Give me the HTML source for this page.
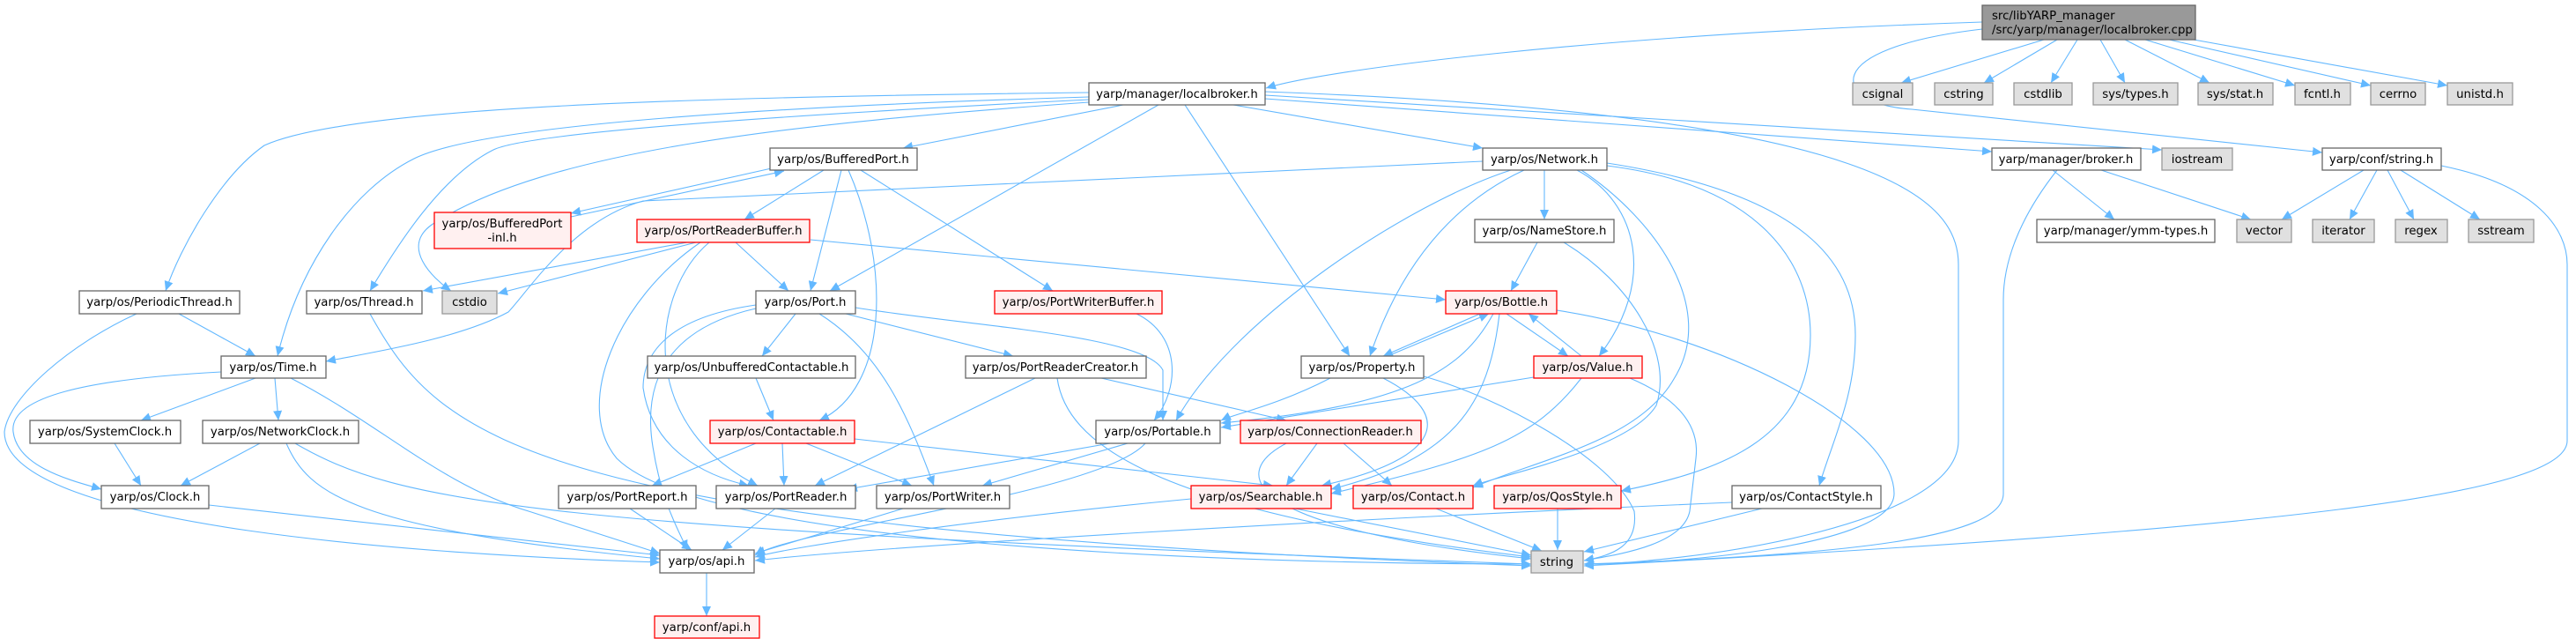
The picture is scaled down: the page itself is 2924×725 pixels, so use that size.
<!DOCTYPE html>
<html><head><meta charset="utf-8"><style>
html,body{margin:0;padding:0;background:#fff;}
svg{display:block;}
text{font-family:"DejaVu Sans","Liberation Sans",sans-serif;font-size:13.3px;fill:#000;text-anchor:middle;}
.n rect{fill:#fff;stroke:#666;stroke-width:1.3;}
.r rect{fill:#fff0f0;stroke:#f00;stroke-width:1.3;}
.g rect{fill:#e0e0e0;stroke:#999;stroke-width:1.3;}
.e path{fill:none;stroke:#63b8ff;stroke-width:1.1;}
</style></head><body>
<svg width="2924" height="725" viewBox="0 0 2924 725" xmlns="http://www.w3.org/2000/svg">
<defs><marker id="a" markerUnits="userSpaceOnUse" markerWidth="12" markerHeight="10" refX="11" refY="5" orient="auto"><path d="M0,0 L11,5 L0,10 z" fill="#63b8ff"/></marker></defs>
<g class="e" marker-end="url(#a)">
<path d="M2250,25 C1800,40 1500,80 1437,100" marker-end="url(#a)"/>
<path d="M2320,45 L2158,94" marker-end="url(#a)"/>
<path d="M2335,45 L2252,94" marker-end="url(#a)"/>
<path d="M2358,45 L2328,94" marker-end="url(#a)"/>
<path d="M2384,45 L2412,94" marker-end="url(#a)"/>
<path d="M2412,45 L2508,94" marker-end="url(#a)"/>
<path d="M2435,45 L2605,97" marker-end="url(#a)"/>
<path d="M2462,45 L2691,97" marker-end="url(#a)"/>
<path d="M2490,45 L2778,97" marker-end="url(#a)"/>
<path d="M2250,33 C2060,55 2080,118 2170,124 L2636,173" marker-end="url(#a)"/>
<path d="M1275,119 L1025,168" marker-end="url(#a)"/>
<path d="M1315,119 L942,330" marker-end="url(#a)"/>
<path d="M1400,119 L1683,168" marker-end="url(#a)"/>
<path d="M1345,119 L1532,404" marker-end="url(#a)"/>
<path d="M1436,112 L2261,172" marker-end="url(#a)"/>
<path d="M1436,108 L2454,170" marker-end="url(#a)"/>
<path d="M1436,104 C2150,130 2223,230 2223,300 L2223,500 C2223,600 1900,640 1798,640" marker-end="url(#a)"/>
<path d="M1236,105 C800,110 400,120 300,165 C250,200 205,280 188,330" marker-end="url(#a)"/>
<path d="M1236,110 C900,120 550,140 470,180 C400,215 340,300 315,404" marker-end="url(#a)"/>
<path d="M1236,113 C900,130 600,150 560,170 C500,200 450,280 420,330" marker-end="url(#a)"/>
<path d="M1236,116 C900,140 620,170 490,255 C455,280 490,315 512,330" marker-end="url(#a)"/>
<path d="M880,190 L648,242" marker-end="url(#a)"/>
<path d="M648,246 L890,194" marker-end="url(#a)"/>
<path d="M935,193 L845,249" marker-end="url(#a)"/>
<path d="M955,193 L920,330" marker-end="url(#a)"/>
<path d="M963,193 C1010,300 1010,440 930,477" marker-end="url(#a)"/>
<path d="M977,193 L1195,330" marker-end="url(#a)"/>
<path d="M835,275 L895,330" marker-end="url(#a)"/>
<path d="M780,275 L480,330" marker-end="url(#a)"/>
<path d="M790,275 L565,333" marker-end="url(#a)"/>
<path d="M920,272 L1641,340" marker-end="url(#a)"/>
<path d="M805,275 C740,330 720,480 860,551" marker-end="url(#a)"/>
<path d="M795,275 C700,340 650,460 700,520 C800,620 1400,640 1738,640" marker-end="url(#a)"/>
<path d="M1753,193 L1753,249" marker-end="url(#a)"/>
<path d="M1730,193 C1650,230 1590,300 1555,404" marker-end="url(#a)"/>
<path d="M1790,193 C1860,230 1880,320 1815,404" marker-end="url(#a)"/>
<path d="M1715,193 C1600,230 1400,360 1335,477" marker-end="url(#a)"/>
<path d="M1795,193 C1880,250 1950,350 1900,430 C1860,500 1750,520 1672,553" marker-end="url(#a)"/>
<path d="M1824,188 C2000,210 2055,300 2055,380 C2055,500 1950,535 1840,557" marker-end="url(#a)"/>
<path d="M1824,185 C2050,220 2106,300 2106,380 C2106,450 2080,500 2065,551" marker-end="url(#a)"/>
<path d="M1683,183 L730,228 C650,250 600,330 577,354 C520,385 420,400 370,410" marker-end="url(#a)"/>
<path d="M1745,275 L1715,330" marker-end="url(#a)"/>
<path d="M1775,275 C1850,320 1900,400 1880,460 C1850,510 1700,540 1672,551" marker-end="url(#a)"/>
<path d="M1680,356 L1570,404" marker-end="url(#a)"/>
<path d="M1710,356 L1780,404" marker-end="url(#a)"/>
<path d="M1695,356 C1660,420 1600,460 1386,480" marker-end="url(#a)"/>
<path d="M1702,356 C1690,460 1650,520 1511,555" marker-end="url(#a)"/>
<path d="M1767,352 C1950,380 2150,480 2150,560 C2150,620 1900,640 1798,640" marker-end="url(#a)"/>
<path d="M1575,404 L1690,356" marker-end="url(#a)"/>
<path d="M1510,429 C1450,460 1400,470 1386,477" marker-end="url(#a)"/>
<path d="M1570,429 C1650,470 1640,520 1500,551" marker-end="url(#a)"/>
<path d="M1616,427 C1700,450 1830,520 1855,580 C1860,620 1830,630 1798,636" marker-end="url(#a)"/>
<path d="M1795,404 L1735,356" marker-end="url(#a)"/>
<path d="M1741,428 L1386,485" marker-end="url(#a)"/>
<path d="M1795,429 C1740,500 1680,520 1511,560" marker-end="url(#a)"/>
<path d="M1850,429 C1900,450 1930,480 1925,520 L1918,580 C1910,620 1830,630 1798,636" marker-end="url(#a)"/>
<path d="M903,356 L865,404" marker-end="url(#a)"/>
<path d="M960,356 L1150,404" marker-end="url(#a)"/>
<path d="M971,349 C1100,370 1300,380 1320,420 L1320,477" marker-end="url(#a)"/>
<path d="M930,356 C1000,400 1030,470 1060,551" marker-end="url(#a)"/>
<path d="M858,346 C760,360 730,400 730,440 C740,510 800,540 850,551" marker-end="url(#a)"/>
<path d="M858,350 C770,370 730,420 740,500 C750,570 770,600 780,624" marker-end="url(#a)"/>
<path d="M858,429 L878,477" marker-end="url(#a)"/>
<path d="M1175,429 L925,551" marker-end="url(#a)"/>
<path d="M1250,429 L1460,477" marker-end="url(#a)"/>
<path d="M1200,429 C1210,500 1300,580 1738,632" marker-end="url(#a)"/>
<path d="M858,503 L740,551" marker-end="url(#a)"/>
<path d="M888,503 L890,551" marker-end="url(#a)"/>
<path d="M915,503 L1035,551" marker-end="url(#a)"/>
<path d="M970,498 L1445,551" marker-end="url(#a)"/>
<path d="M1260,503 L962,555" marker-end="url(#a)"/>
<path d="M1280,503 L1115,551" marker-end="url(#a)"/>
<path d="M1300,503 C1250,560 900,600 857,630" marker-end="url(#a)"/>
<path d="M1525,503 L1580,551" marker-end="url(#a)"/>
<path d="M1495,503 L1460,551" marker-end="url(#a)"/>
<path d="M1460,503 C1390,540 1420,600 1738,634" marker-end="url(#a)"/>
<path d="M715,577 L785,624" marker-end="url(#a)"/>
<path d="M880,577 L820,624" marker-end="url(#a)"/>
<path d="M1025,577 L857,628" marker-end="url(#a)"/>
<path d="M1352,566 C1100,590 900,620 857,632" marker-end="url(#a)"/>
<path d="M1470,577 L1738,630" marker-end="url(#a)"/>
<path d="M1630,577 L1750,625" marker-end="url(#a)"/>
<path d="M1768,577 L1768,624" marker-end="url(#a)"/>
<path d="M2000,577 L1798,626" marker-end="url(#a)"/>
<path d="M1966,570 C1500,590 1000,620 857,636" marker-end="url(#a)"/>
<path d="M290,429 L160,477" marker-end="url(#a)"/>
<path d="M312,429 L316,477" marker-end="url(#a)"/>
<path d="M251,422 C100,430 10,450 15,490 C20,530 80,545 115,555" marker-end="url(#a)"/>
<path d="M330,429 C430,480 500,550 600,580 L749,628" marker-end="url(#a)"/>
<path d="M130,503 L160,551" marker-end="url(#a)"/>
<path d="M295,503 L205,551" marker-end="url(#a)"/>
<path d="M325,503 C350,560 400,600 749,634" marker-end="url(#a)"/>
<path d="M335,503 C450,570 600,600 1738,640" marker-end="url(#a)"/>
<path d="M203,356 L290,404" marker-end="url(#a)"/>
<path d="M155,356 C80,390 10,450 5,490 C5,600 500,630 749,638" marker-end="url(#a)"/>
<path d="M237,573 L749,630" marker-end="url(#a)"/>
<path d="M420,356 C500,500 600,600 1738,642" marker-end="url(#a)"/>
<path d="M1290,356 C1340,380 1340,440 1310,477" marker-end="url(#a)"/>
<path d="M802,650 L802,699" marker-end="url(#a)"/>
<path d="M2330,193 L2400,249" marker-end="url(#a)"/>
<path d="M2385,193 L2555,249" marker-end="url(#a)"/>
<path d="M2335,193 C2290,250 2274,300 2274,340 L2274,560 C2274,610 2100,630 1798,640" marker-end="url(#a)"/>
<path d="M2683,193 L2590,249" marker-end="url(#a)"/>
<path d="M2698,193 L2667,249" marker-end="url(#a)"/>
<path d="M2710,193 L2740,249" marker-end="url(#a)"/>
<path d="M2725,193 L2815,249" marker-end="url(#a)"/>
<path d="M2771,188 C2880,210 2914,260 2914,300 L2914,500 C2914,560 2600,600 1798,642" marker-end="url(#a)"/>
</g>

<g><rect x="2250" y="6" width="242" height="39" fill="#999" stroke="#666" stroke-width="1.3"/>
<text x="2261" y="22" style="text-anchor:start">src/libYARP_manager</text>
<text x="2261" y="38" style="text-anchor:start">/src/yarp/manager/localbroker.cpp</text></g>

<g class="n"><rect x="1236" y="94" width="200" height="25"/><text x="1336" y="111">yarp/manager/localbroker.h</text></g>
<g class="g"><rect x="2103" y="94" width="68" height="25"/><text x="2137" y="111">csignal</text></g>
<g class="g"><rect x="2196" y="94" width="66" height="25"/><text x="2229" y="111">cstring</text></g>
<g class="g"><rect x="2286" y="94" width="66" height="25"/><text x="2319" y="111">cstdlib</text></g>
<g class="g"><rect x="2376" y="94" width="96" height="25"/><text x="2424" y="111">sys/types.h</text></g>
<g class="g"><rect x="2495" y="94" width="85" height="25"/><text x="2537" y="111">sys/stat.h</text></g>
<g class="g"><rect x="2605" y="94" width="63" height="25"/><text x="2636" y="111">fcntl.h</text></g>
<g class="g"><rect x="2691" y="94" width="62" height="25"/><text x="2722" y="111">cerrno</text></g>
<g class="g"><rect x="2778" y="94" width="74" height="25"/><text x="2815" y="111">unistd.h</text></g>

<g class="n"><rect x="874" y="168" width="167" height="25"/><text x="957" y="185">yarp/os/BufferedPort.h</text></g>
<g class="n"><rect x="1683" y="168" width="141" height="25"/><text x="1753" y="185">yarp/os/Network.h</text></g>
<g class="n"><rect x="2261" y="168" width="169" height="25"/><text x="2345" y="185">yarp/manager/broker.h</text></g>
<g class="g"><rect x="2454" y="168" width="80" height="25"/><text x="2494" y="185">iostream</text></g>
<g class="n"><rect x="2636" y="168" width="135" height="25"/><text x="2703" y="185">yarp/conf/string.h</text></g>

<g class="r"><rect x="493" y="241" width="155" height="41"/><text x="570" y="258">yarp/os/BufferedPort</text><text x="570" y="274">-inl.h</text></g>
<g class="r"><rect x="723" y="249" width="196" height="26"/><text x="821" y="266">yarp/os/PortReaderBuffer.h</text></g>
<g class="n"><rect x="1674" y="249" width="158" height="26"/><text x="1753" y="266">yarp/os/NameStore.h</text></g>
<g class="n"><rect x="2312" y="249" width="202" height="26"/><text x="2413" y="266">yarp/manager/ymm-types.h</text></g>
<g class="g"><rect x="2539" y="249" width="62" height="26"/><text x="2570" y="266">vector</text></g>
<g class="g"><rect x="2625" y="249" width="70" height="26"/><text x="2660" y="266">iterator</text></g>
<g class="g"><rect x="2719" y="249" width="59" height="26"/><text x="2748" y="266">regex</text></g>
<g class="g"><rect x="2802" y="249" width="74" height="26"/><text x="2839" y="266">sstream</text></g>

<g class="n"><rect x="90" y="330" width="182" height="26"/><text x="181" y="347">yarp/os/PeriodicThread.h</text></g>
<g class="n"><rect x="348" y="330" width="131" height="26"/><text x="413" y="347">yarp/os/Thread.h</text></g>
<g class="g"><rect x="502" y="330" width="62" height="26"/><text x="533" y="347">cstdio</text></g>
<g class="n"><rect x="858" y="330" width="113" height="26"/><text x="914" y="347">yarp/os/Port.h</text></g>
<g class="r"><rect x="1129" y="330" width="190" height="26"/><text x="1224" y="347">yarp/os/PortWriterBuffer.h</text></g>
<g class="r"><rect x="1641" y="330" width="126" height="26"/><text x="1704" y="347">yarp/os/Bottle.h</text></g>

<g class="n"><rect x="251" y="404" width="119" height="25"/><text x="310" y="421">yarp/os/Time.h</text></g>
<g class="n"><rect x="735" y="404" width="236" height="25"/><text x="853" y="421">yarp/os/UnbufferedContactable.h</text></g>
<g class="n"><rect x="1096" y="404" width="205" height="25"/><text x="1198" y="421">yarp/os/PortReaderCreator.h</text></g>
<g class="n"><rect x="1477" y="404" width="139" height="25"/><text x="1546" y="421">yarp/os/Property.h</text></g>
<g class="r"><rect x="1741" y="404" width="123" height="25"/><text x="1802" y="421">yarp/os/Value.h</text></g>

<g class="n"><rect x="34" y="477" width="171" height="26"/><text x="119" y="494">yarp/os/SystemClock.h</text></g>
<g class="n"><rect x="230" y="477" width="177" height="26"/><text x="318" y="494">yarp/os/NetworkClock.h</text></g>
<g class="r"><rect x="806" y="477" width="164" height="26"/><text x="888" y="494">yarp/os/Contactable.h</text></g>
<g class="n"><rect x="1244" y="477" width="141" height="26"/><text x="1314" y="494">yarp/os/Portable.h</text></g>
<g class="r"><rect x="1408" y="477" width="205" height="26"/><text x="1510" y="494">yarp/os/ConnectionReader.h</text></g>

<g class="n"><rect x="115" y="551" width="122" height="26"/><text x="176" y="568">yarp/os/Clock.h</text></g>
<g class="n"><rect x="634" y="551" width="156" height="26"/><text x="712" y="568">yarp/os/PortReport.h</text></g>
<g class="n"><rect x="813" y="551" width="158" height="26"/><text x="892" y="568">yarp/os/PortReader.h</text></g>
<g class="n"><rect x="995" y="551" width="151" height="26"/><text x="1070" y="568">yarp/os/PortWriter.h</text></g>
<g class="r"><rect x="1352" y="551" width="159" height="26"/><text x="1431" y="568">yarp/os/Searchable.h</text></g>
<g class="r"><rect x="1536" y="551" width="136" height="26"/><text x="1604" y="568">yarp/os/Contact.h</text></g>
<g class="r"><rect x="1696" y="551" width="144" height="26"/><text x="1768" y="568">yarp/os/QosStyle.h</text></g>
<g class="n"><rect x="1966" y="551" width="169" height="26"/><text x="2050" y="568">yarp/os/ContactStyle.h</text></g>

<g class="n"><rect x="749" y="624" width="107" height="26"/><text x="802" y="641">yarp/os/api.h</text></g>
<g class="g"><rect x="1738" y="625" width="59" height="25"/><text x="1767" y="642">string</text></g>
<g class="r"><rect x="743" y="699" width="119" height="25"/><text x="802" y="716">yarp/conf/api.h</text></g>
</svg>
</body></html>
